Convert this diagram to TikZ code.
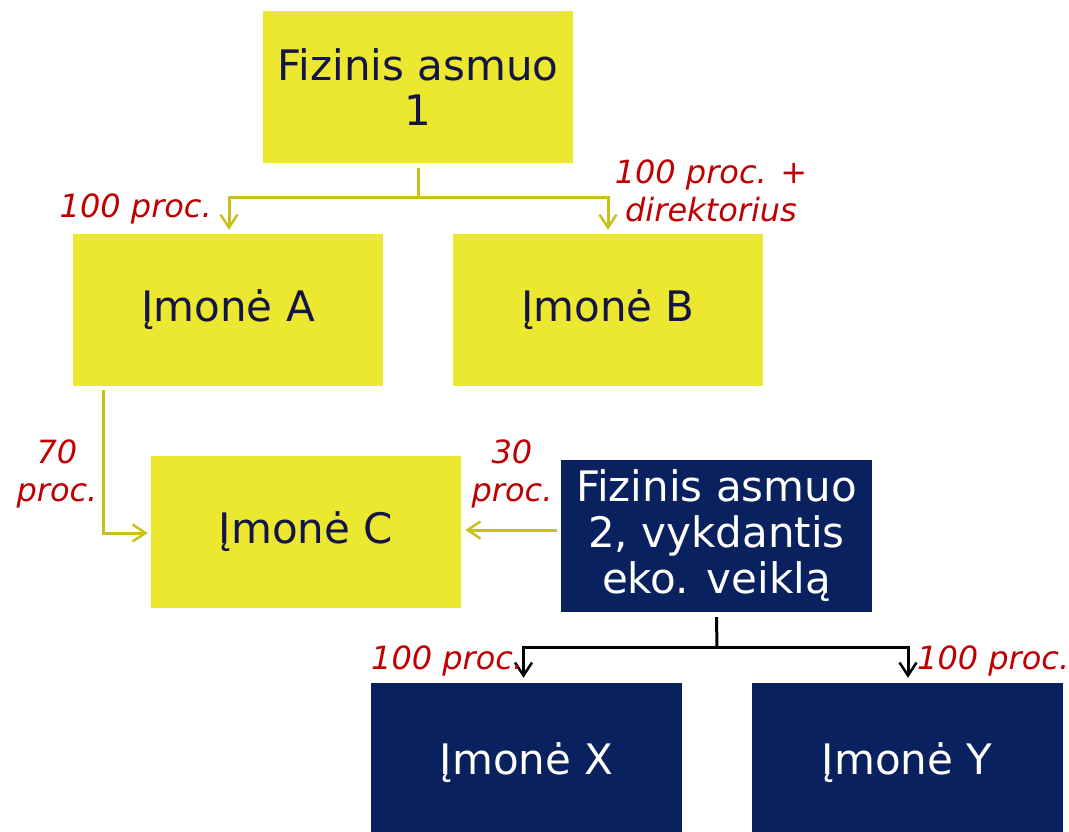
\documentclass[tikz,border=0pt]{standalone}
\usepackage{fontspec}
\setmainfont{DejaVu Sans}
\usetikzlibrary{arrows.meta}
\definecolor{yel}{HTML}{ECE72F}
\definecolor{navy}{HTML}{0A2160}
\definecolor{txtnavy}{HTML}{141446}
\definecolor{lbl}{HTML}{C00000}
\definecolor{yline}{HTML}{C8C01E}
\begin{document}
\begin{tikzpicture}[x=1pt,y=-1pt,
  ybox/.style={fill=yel,minimum width=310pt,minimum height=152pt,inner sep=0pt,align=center,text=txtnavy,font=\fontsize{42}{45}\selectfont},
  nbox/.style={fill=navy,minimum width=311pt,minimum height=152pt,inner sep=0pt,align=center,text=white,font=\fontsize{42}{46}\selectfont},
  yconn/.style={draw=yline,line width=3pt,-{Straight Barb[length=13pt,width=17pt,line width=2.5pt]}},
  kconn/.style={draw=black,line width=3pt,-{Straight Barb[length=13pt,width=17pt,line width=2.5pt]}},
  lab/.style={text=lbl,font=\fontsize{32}{38}\selectfont\itshape,inner sep=0pt,align=center}]
\useasboundingbox (0,0) rectangle (1069,832);
\node[ybox] (f1) at (418,87) {Fizinis asmuo\\1};
\node[ybox] (a) at (228,310) {Įmonė A};
\node[ybox] (b) at (608,310) {Įmonė B};
\node[ybox] (c) at (306,532) {Įmonė C};
\node[nbox] (f2) at (716.5,536) {Fizinis asmuo\\2, vykdantis\\eko. veiklą};
\node[nbox,minimum height=160pt] (x) at (526.5,763) {Įmonė X};
\node[nbox,minimum height=160pt] (y) at (907,763) {Įmonė Y};
\coordinate (j1) at (418,198);
\draw[draw=yline,line width=3pt] ([yshift=-5pt]f1.south) -- (j1);
\draw[yconn] (j1) -| ([xshift=1pt,yshift=4pt]a.north);
\draw[yconn] (j1) -| ([yshift=4pt]b.north);
\draw[yconn] ([xshift=-125pt,yshift=-4pt]a.south) |- ([xshift=-3pt,yshift=-1pt]c.west);
\draw[yconn] ([xshift=-4pt,yshift=6pt]f2.west) -- ([xshift=4pt,yshift=2pt]c.east);
\coordinate (j2) at (717,647);
\draw[draw=black,line width=3pt] ([yshift=-5pt]f2.south) -- (j2);
\draw[kconn] (j2) -| ([xshift=-3pt,yshift=5pt]x.north);
\draw[kconn] (j2) -| ([xshift=1pt,yshift=5pt]y.north);
\node[lab,anchor=east] (la) at (212,209) {100 proc.};
\node[lab] (lb) at (711,191) {100 proc. +\\direktorius};
\node[lab] (lc) at (57,474) {70\\proc.};
\node[lab] (ld) at (512,474) {30\\proc.};
\node[lab,anchor=west] (lx) at (371,661) {100 proc.};
\node[lab,anchor=west] (ly) at (917,661) {100 proc.};
\end{tikzpicture}
\end{document}
